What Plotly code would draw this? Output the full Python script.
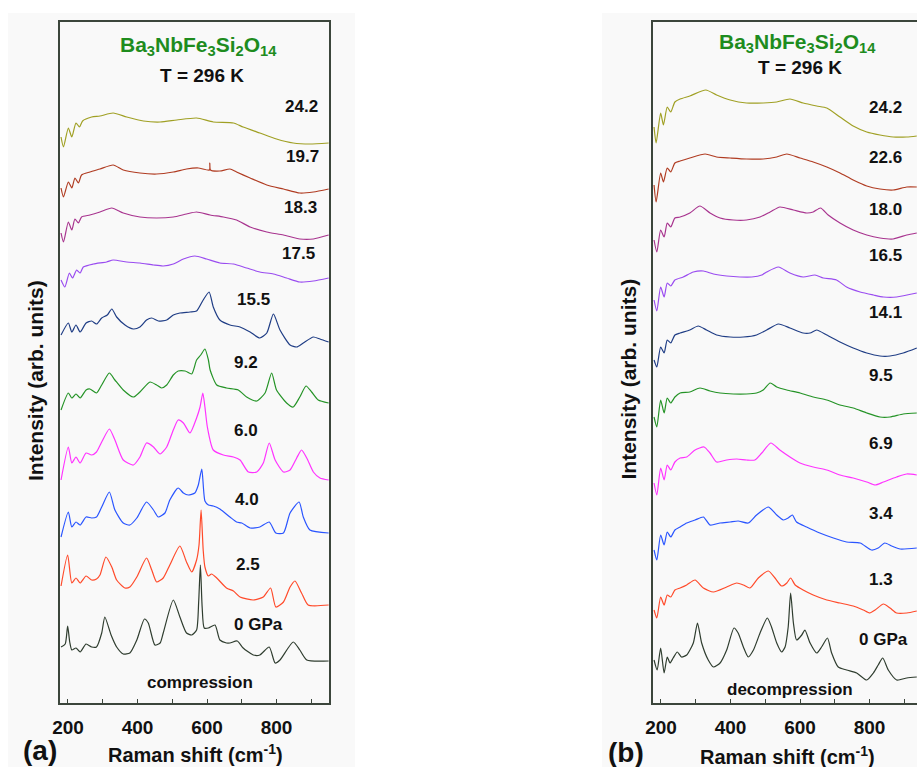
import plotly.graph_objects as go

# ---------------- DATA ----------------
# Panel (a): compression, pressures in GPa (bottom -> top)
comp_labels = ["0 GPa", "2.5", "4.0", "6.0", "9.2", "15.5", "17.5", "18.3", "19.7", "24.2"]
comp_offsets = [41, 98, 170, 223, 300, 361, 425, 468, 514, 560]

comp_00_x = [180, 192, 199, 205, 211, 223, 235, 252, 268, 282, 297, 306, 324, 340, 359, 378, 398, 420, 431, 450, 465, 474, 503, 522, 541, 556, 570, 576, 581, 586, 592, 604, 623, 637, 656, 666, 687, 704, 733, 752, 779, 796, 810, 848, 867, 887, 950]
comp_00_i = [15, 18, 36, 20, 12, 14, 10, 18, 15, 15, 29, 45, 27, 15, 8, 9, 22, 43, 39, 17, 19, 29, 62, 45, 29, 27, 32, 60, 97, 55, 34, 34, 37, 22, 19, 19, 21, 14, 7, 7, 15, -1, 2, 20, 12, 2, 1]

comp_25_x = [180, 199, 211, 223, 235, 252, 268, 282, 292, 309, 326, 340, 364, 378, 398, 426, 441, 455, 474, 493, 522, 541, 556, 570, 577, 583, 589, 594, 604, 613, 628, 656, 676, 695, 733, 762, 783, 798, 820, 839, 853, 872, 891, 950]
comp_25_i = [19, 50, 22, 27, 22, 29, 25, 26, 30, 48, 38, 25, 17, 18, 28, 47, 35, 23, 27, 40, 59, 43, 33, 45, 60, 95, 55, 38, 29, 31, 27, 17, 14, 8, 5, 8, 17, -2, 3, 18, 24, 12, 0, 0]

comp_40_x = [180, 201, 211, 223, 235, 252, 268, 282, 297, 319, 335, 359, 378, 398, 426, 446, 460, 479, 493, 517, 532, 546, 565, 575, 585, 594, 604, 618, 637, 666, 685, 700, 724, 752, 779, 798, 820, 839, 865, 877, 896, 950]
comp_40_i = [-4, 21, 6, 11, 8, 16, 15, 16, 26, 41, 23, 10, 8, 15, 31, 23, 16, 20, 33, 45, 40, 38, 40, 48, 64, 32, 28, 27, 24, 16, 11, 10, 5, 6, 11, 0, 0, 20, 31, 16, 3, 0]

comp_60_x = [180, 201, 211, 223, 235, 252, 268, 282, 297, 319, 335, 359, 388, 407, 426, 446, 465, 484, 503, 517, 532, 551, 570, 580, 588, 594, 601, 618, 647, 676, 695, 719, 743, 762, 779, 796, 820, 839, 858, 872, 887, 906, 925, 950]
comp_60_i = [0, 33, 17, 23, 17, 27, 25, 28, 38, 51, 40, 20, 15, 23, 37, 33, 26, 33, 50, 60, 57, 47, 62, 73, 87, 73, 53, 30, 25, 23, 20, 8, 8, 17, 37, 20, 8, 10, 22, 30, 22, 8, 2, 0]

comp_92_x = [180, 201, 211, 223, 235, 252, 263, 282, 297, 319, 335, 359, 388, 407, 436, 455, 469, 484, 503, 517, 537, 556, 570, 582, 594, 604, 609, 628, 656, 690, 714, 743, 767, 786, 800, 829, 848, 867, 885, 901, 920, 950]
comp_92_i = [-7, 10, 5, 9, 5, 13, 14, 10, 18, 30, 23, 13, 6, 11, 21, 18, 15, 18, 28, 32, 32, 29, 43, 48, 54, 43, 33, 18, 15, 13, 6, 2, 10, 30, 13, 0, -4, 6, 17, 11, 3, 0]

comp_155_x = [180, 201, 211, 223, 235, 252, 268, 282, 297, 313, 326, 340, 364, 388, 407, 426, 441, 460, 484, 503, 522, 551, 570, 589, 606, 618, 637, 666, 695, 724, 752, 772, 791, 810, 839, 858, 877, 906, 925, 950]
comp_155_i = [7, 19, 10, 17, 10, 19, 21, 18, 24, 27, 33, 25, 17, 13, 15, 22, 24, 21, 22, 27, 29, 30, 31, 42, 50, 35, 22, 17, 15, 10, 4, 9, 28, 12, -3, -5, -1, 5, 3, 0]

comp_175_x = [180, 191, 204, 213, 225, 235, 244, 273, 311, 330, 369, 407, 446, 474, 503, 532, 565, 599, 637, 676, 714, 752, 791, 829, 867, 906, 950]
comp_175_i = [-2, -9, 5, 0, 8, 5, 11, 14, 16, 18, 16, 15, 13, 12, 14, 19, 22, 19, 15, 14, 10, 6, 4, 0, -4, -3, 0]

comp_183_x = [180, 187, 201, 211, 220, 230, 239, 263, 292, 326, 359, 407, 455, 503, 541, 570, 609, 647, 685, 724, 772, 820, 867, 906, 950]
comp_183_i = [2, -7, 13, 5, 16, 12, 18, 20, 23, 27, 22, 18, 17, 18, 21, 23, 20, 18, 15, 8, 3, 0, -4, -4, 0]

comp_197_x = [180, 187, 201, 211, 220, 230, 239, 263, 292, 330, 359, 407, 455, 503, 541, 575, 607, 608, 610, 637, 666, 685, 724, 772, 820, 867, 906, 950]
comp_197_i = [1, -8, 7, 1, 11, 6, 14, 17, 20, 24, 19, 16, 15, 17, 20, 21, 19, 26, 19, 18, 20, 17, 11, 4, 0, -4, -3, 0]

comp_242_x = [180, 187, 201, 211, 223, 233, 242, 268, 292, 330, 369, 417, 465, 513, 570, 618, 676, 704, 752, 800, 848, 896, 950]
comp_242_i = [6, -4, 15, 6, 20, 16, 22, 26, 27, 30, 26, 22, 21, 23, 25, 21, 20, 16, 10, 4, 0, -1, 0]

# Panel (b): decompression, pressures in GPa (bottom -> top)
dec_labels = ["0 GPa", "1.3", "3.4", "6.9", "9.5", "14.1", "16.5", "18.0", "22.6", "24.2"]
dec_offsets = [26, 92, 155, 228, 290, 355, 410, 470, 516, 567]

dec_00_x = [180, 189, 199, 209, 218, 226, 235, 247, 259, 274, 293, 305, 317, 336, 351, 370, 389, 410, 422, 437, 451, 466, 485, 506, 518, 533, 547, 557, 566, 573, 581, 590, 605, 614, 629, 648, 662, 679, 691, 710, 734, 763, 792, 811, 825, 838, 854, 878, 907, 936]
dec_00_i = [17, 7, 29, 4, 20, 14, 19, 25, 20, 22, 34, 54, 34, 17, 10, 14, 27, 49, 44, 30, 20, 27, 44, 59, 50, 34, 25, 30, 50, 84, 54, 37, 42, 47, 34, 24, 30, 39, 24, 10, 7, 4, -3, 4, 12, 19, 7, -3, -1, 0]

dec_13_x = [180, 188, 199, 209, 218, 228, 240, 255, 274, 298, 322, 351, 389, 418, 437, 456, 480, 509, 528, 547, 562, 573, 586, 609, 638, 677, 715, 753, 782, 801, 816, 840, 859, 878, 907, 936]
dec_13_i = [1, -7, 14, 6, 16, 14, 21, 23, 26, 31, 23, 19, 24, 28, 26, 23, 33, 40, 33, 25, 28, 33, 26, 21, 16, 11, 8, 5, 1, -2, 1, 7, 3, -2, -2, 0]

dec_34_x = [180, 188, 199, 209, 218, 228, 240, 255, 274, 298, 322, 341, 370, 399, 422, 451, 475, 509, 533, 552, 566, 578, 590, 619, 657, 696, 734, 773, 806, 825, 844, 864, 888, 936]
dec_34_i = [-2, -12, 13, 3, 16, 11, 18, 21, 25, 28, 31, 23, 25, 26, 27, 25, 33, 41, 33, 28, 30, 33, 26, 21, 15, 10, 6, 5, -2, 0, 5, 2, -1, 0]

dec_69_x = [180, 188, 199, 209, 218, 228, 240, 255, 274, 298, 324, 341, 360, 389, 418, 446, 470, 490, 516, 542, 571, 600, 638, 677, 715, 753, 792, 816, 840, 878, 907, 936]
dec_69_i = [-8, -20, 7, -5, 10, 5, 13, 17, 18, 25, 28, 22, 13, 15, 16, 15, 15, 22, 32, 25, 18, 12, 8, 5, 0, -3, -7, -10, -7, -2, 1, 0]

dec_95_x = [180, 188, 199, 209, 218, 228, 240, 255, 283, 312, 341, 370, 408, 446, 475, 494, 514, 533, 562, 600, 638, 677, 715, 753, 792, 830, 859, 897, 936]
dec_95_i = [-4, -14, 13, 0, 15, 10, 16, 20, 21, 25, 22, 20, 19, 19, 20, 23, 30, 26, 23, 20, 16, 13, 8, 5, 0, -4, -4, -1, 0]

dec_141_x = [180, 188, 199, 209, 218, 228, 240, 255, 283, 307, 331, 360, 399, 437, 475, 504, 538, 571, 609, 629, 648, 677, 715, 753, 792, 830, 859, 897, 936]
dec_141_i = [-12, -19, 1, -5, 8, 5, 13, 15, 18, 22, 18, 13, 11, 11, 13, 18, 24, 20, 15, 15, 18, 13, 6, 0, -5, -8, -8, -5, 0]

dec_165_x = [180, 188, 199, 209, 218, 228, 240, 264, 293, 322, 351, 389, 427, 461, 490, 504, 538, 571, 609, 643, 667, 705, 734, 773, 811, 840, 878, 936]
dec_165_i = [-7, -18, 6, -4, 10, 7, 13, 16, 21, 22, 19, 17, 16, 16, 18, 21, 26, 20, 16, 18, 15, 13, 6, 1, -2, -4, -4, 0]

dec_180_x = [180, 188, 199, 209, 218, 228, 240, 255, 283, 312, 341, 370, 408, 446, 485, 514, 542, 581, 619, 638, 659, 681, 715, 753, 792, 830, 868, 907, 936]
dec_180_i = [-7, -19, 3, -4, 10, 6, 15, 16, 20, 27, 20, 15, 13, 13, 16, 21, 26, 23, 20, 21, 25, 18, 10, 3, -2, -5, -6, -2, 0]

dec_226_x = [180, 186, 199, 207, 218, 228, 240, 255, 283, 327, 360, 399, 446, 494, 533, 562, 600, 638, 677, 715, 753, 792, 830, 868, 907, 936]
dec_226_i = [2, -15, 14, 5, 19, 15, 24, 26, 29, 33, 30, 29, 28, 28, 30, 33, 29, 25, 20, 14, 7, 1, -2, -3, 0, 0]

dec_242_x = [180, 186, 199, 207, 218, 228, 240, 255, 283, 329, 360, 399, 446, 494, 533, 571, 609, 648, 677, 715, 753, 792, 830, 868, 907, 936]
dec_242_i = [9, -7, 23, 11, 29, 24, 34, 37, 40, 46, 41, 36, 33, 33, 34, 37, 33, 30, 28, 19, 10, 4, 1, -1, -1, 0]

colors = ["#2f3d2f", "#ff4a2a", "#2a55ff", "#ff33ff", "#249326", "#1f3d85", "#9a4cf0", "#a8348f", "#b03c22", "#a0a024"]

comp_x = [comp_00_x, comp_25_x, comp_40_x, comp_60_x, comp_92_x, comp_155_x, comp_175_x, comp_183_x, comp_197_x, comp_242_x]
comp_i = [comp_00_i, comp_25_i, comp_40_i, comp_60_i, comp_92_i, comp_155_i, comp_175_i, comp_183_i, comp_197_i, comp_242_i]
dec_x = [dec_00_x, dec_13_x, dec_34_x, dec_69_x, dec_95_x, dec_141_x, dec_165_x, dec_180_x, dec_226_x, dec_242_x]
dec_i = [dec_00_i, dec_13_i, dec_34_i, dec_69_i, dec_95_i, dec_141_i, dec_165_i, dec_180_i, dec_226_i, dec_242_i]

major_ticks = [200, 400, 600, 800]
minor_ticks = [300, 500, 700, 900]

# ---------------- FIGURE ----------------
W, H = 917, 767
FONT = "Arial, Liberation Sans, sans-serif"
FRAME = "#3c463c"
GREEN = "#1e8c1e"


def px(x):
    return x / W


def py(y):
    return 1 - y / H


fig = go.Figure()
for xs, ys, off, c in zip(comp_x, comp_i, comp_offsets, colors):
    fig.add_trace(go.Scatter(x=xs, y=[v + off for v in ys], mode="lines",
                             line=dict(color=c, width=1.2, shape="spline", smoothing=0.6),
                             xaxis="x", yaxis="y", showlegend=False, hoverinfo="skip"))
for xs, ys, off, c in zip(dec_x, dec_i, dec_offsets, colors):
    fig.add_trace(go.Scatter(x=xs, y=[v + off for v in ys], mode="lines",
                             line=dict(color=c, width=1.2, shape="spline", smoothing=0.6),
                             xaxis="x2", yaxis="y2", showlegend=False, hoverinfo="skip"))

xcommon = dict(tickmode="array", tickvals=major_ticks, automargin=False,
               ticks="inside", ticklen=4, tickwidth=1, tickcolor=FRAME,
               minor=dict(tickmode="array", tickvals=minor_ticks, ticks="inside",
                          ticklen=4, tickwidth=1, tickcolor=FRAME, showgrid=False),
               ticklabelstandoff=6,
               showline=True, linecolor=FRAME, linewidth=1.5, mirror=True,
               showgrid=False, zeroline=False,
               tickfont=dict(family=FONT, size=19, color="#111", weight="bold"))
ycommon = dict(range=[0, 681], showticklabels=False, ticks="", showgrid=False, automargin=False,
               zeroline=False, showline=True, linecolor=FRAME, linewidth=1.5)

fig.update_layout(
    template="none",
    width=W, height=H, margin=dict(l=0, r=0, t=0, b=0, pad=0), autosize=False,
    paper_bgcolor="white", plot_bgcolor="#f9f9f9",
    xaxis=dict(domain=[px(60), px(329)], range=[177, 951], anchor="y", **xcommon),
    yaxis=dict(domain=[py(703), py(22)], anchor="x", mirror=True, **ycommon),
    xaxis2=dict(domain=[px(653), 1.0], range=[177, 936.6], anchor="y2", **xcommon),
    yaxis2=dict(domain=[py(703), py(22)], anchor="x2", mirror=False, **ycommon),
    shapes=[
        dict(type="rect", xref="paper", yref="paper", x0=px(8), x1=px(355), y0=0, y1=py(13),
             fillcolor="#f9f9f9", line=dict(width=0), layer="below"),
        dict(type="rect", xref="paper", yref="paper", x0=px(602), x1=1, y0=0, y1=py(13),
             fillcolor="#f9f9f9", line=dict(width=0), layer="below"),
    ],
)

ann = []


def text(x, y, t, size, color="#111", angle=0):
    ann.append(dict(x=px(x), y=py(y), xref="paper", yref="paper", text=t, showarrow=False,
                    xanchor="center", yanchor="middle", textangle=angle,
                    font=dict(family=FONT, size=size, color=color)))


formula = "<b>Ba<sub>3</sub>NbFe<sub>3</sub>Si<sub>2</sub>O<sub>14</sub></b>"
text(198, 46, formula, 21, GREEN)
text(797.5, 43, formula, 21, GREEN)
text(202, 75, "<b>T = 296 K</b>", 19)
text(799.5, 67.5, "<b>T = 296 K</b>", 19)

comp_label_pos = [(258, 624), (247.5, 564), (247, 499), (246, 430), (246.5, 362.5), (253, 299),
                  (298.5, 254), (300.5, 208), (302, 156), (301.5, 106)]
dec_label_pos = [(883, 639), (880.5, 579), (880.5, 513), (880.5, 444), (880.5, 376), (885.5, 312.5),
                 (885.5, 255), (885.5, 209), (885.5, 157), (885.5, 107)]
for lab, (x, y) in zip(comp_labels, comp_label_pos):
    text(x, y, "<b>%s</b>" % lab, 17)
for lab, (x, y) in zip(dec_labels, dec_label_pos):
    text(x, y, "<b>%s</b>" % lab, 17)

text(199.5, 682.5, "<b>compression</b>", 17)
text(790, 689, "<b>decompression</b>", 17)

text(35, 381, "<b>Intensity (arb. units)</b>", 21, angle=-90)
text(627.5, 379, "<b>Intensity (arb. units)</b>", 21, angle=-90)
text(195, 753, "<b>Raman shift (cm<sup>-1</sup>)</b>", 20)
text(787.5, 755, "<b>Raman shift (cm<sup>-1</sup>)</b>", 20)
text(40, 750, "<b>(a)</b>", 28)
text(626, 752, "<b>(b)</b>", 28)

fig.update_layout(annotations=ann)
fig.write_html("out.html")
